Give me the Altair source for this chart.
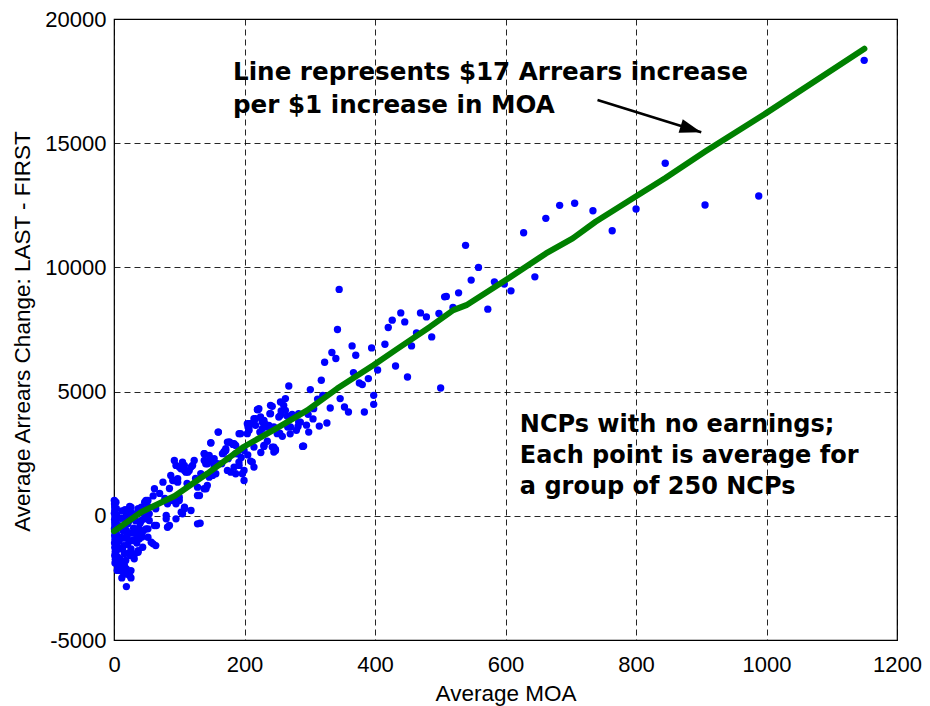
import altair as alt
import pandas as pd

# ---------------- data ----------------
x_ticks = [0, 200, 400, 600, 800, 1000, 1200]
y_ticks = [-5000, 0, 5000, 10000, 15000, 20000]

# column of groups at MOA ~ 0
col_moa = [0.5, 0.8, 1.0, 1.2, 0.6, 1.5, 0.9, 1.1, 1.3, 0.7, 1.6, 1.0, 1.4, 0.8, 1.2, 1.8, 1.1, 2.0, 1.5,
           3, 3.5, 4, 3, 4.5, 3.5, 5, 4, 3, 5]
col_arr = [620, 480, 350, 220, 100, -20, -150, -280, -400, -520, -650, -800, -950, -1100, -1280, -1450, -1600, -1750, -1900,
           550, 300, 50, -250, -450, -700, -900, -1400, -1600, -2200]

# low-MOA cluster, negative changes
neg_moa = [6, 6, 11, 19, 21, 11, 16, 26, 14, 26, 19, 16, 31, 26, 37, 29, 39, 42, 52, 62, 57, 64,
           8, 10, 12, 14, 8, 15, 20, 22, 10, 18, 24, 30, 33, 35, 28, 40, 45, 12, 20, 34, 52, 44,
           60, 37, 32, 9, 6, 9, 19, 24, 65, 49, 42, 47, 54, 80, 82, 85, 128, 132,
           14, 17, 22, 27, 33, 38, 43, 16, 21, 25, 13]
neg_arr = [-1669, -1266, -863, -593, -323, -1871, -2004, -2206, -2274, -2500, -2851, -1532, -1734,
           -1331, -1399, -996, -927, -726, -524, -391, -1065, -1198,
           -400, -100, 200, -600, -1000, -1200, -800, -1500, -2100, -1800, -1000, -500, -200, -1100,
           100, -300, -600, -2500, -2350, -726, -863, -1266, -1129, -1468, -1532, -1734, -2073,
           -2206, -2137, -2407, -391, -524, -190, -121, -190, -121, -460, -391, -323, -298,
           -100, 250, -250, -700, -950, -500, -850, -900, -1150, -1600, -1350]

# low-MOA cluster, small positive changes
pos_moa = [24, 19, 37, 52, 49, 64, 82, 98, 108, 131, 95, 105, 80, 52, 47, 42, 37, 26, 24, 47, 54,
           90, 95, 100, 118, 108, 103, 128, 100, 49, 62, 75, 128, 138, 143, 141,
           60, 70, 78, 85]
pos_arr = [375, 12, 282, 375, 145, 282, 484, 617, 347, 819, -121, 80, 12, 617, 548, 347, 214, 347,
           145, 12, 80, 617, 484, 617, 214, 282, 145, 819, 750, 617, 1089, 1355, 1153, 1089, 1222, 1089,
           800, 900, 700, 1100]

# MOA 85 - 215
mid1_moa = [92.5, 105, 108, 113, 118, 87, 92.5, 97.6, 90, 95, 97.6, 95, 100, 122.9, 120.4, 107.8,
            102.6, 110.2, 115.3, 138.3, 140.6, 145.9, 153.5, 158.6, 145.9, 151, 156, 153.5, 151,
            138.3, 145.9, 143.3, 148.4, 160, 168.8, 171.3, 173.8, 181.5, 186.5, 176.4, 184, 171.3,
            166.2, 173.8, 178.9, 186.5, 184, 191.7, 199.3, 199.3, 196.7, 212, 214.5, 189, 199.3,
            112, 125, 133, 165, 175, 195, 205]
mid1_arr = [2230, 2161, 1827, 1758, 1960, 1625, 1423, 1355, 1423, 1423, 1492, 2028, 1960, 2230,
            2028, 2028, 1895, 1758, 1827, 2230, 2097, 2230, 2298, 2097, 1556, 1625, 1694, 1960,
            2161, 2500, 2431, 2097, 2928, 3371, 2565, 2702, 2968, 2903, 2835, 2968, 2903, 2633,
            2500, 1827, 1758, 1694, 1960, 2028, 1827, 1423, 1694, 2161, 1960, 2500, 2633,
            1300, 1500, 1700, 2100, 2300, 2350, 2450]

# MOA 150 - 300
mid2_moa = [191.7, 204.3, 194, 219.6, 214.5, 224.6, 229.8, 209.4, 206.9, 239.9, 262.7, 222, 239.9,
            255.1, 285.6, 283, 242.5, 237.4, 245, 227.2, 217, 204.3, 207, 214.5, 229.8, 242.5,
            247.5, 289, 245, 245, 247.5, 229.8, 229.8, 234.8, 220.6, 217, 227.2, 232.2, 206.9,
            205.4, 250.1, 254, 266.2, 279.5, 283, 273, 260.1, 262.7, 255.1, 238.9, 252.6, 256.2,
            265.3, 270.4, 223.5, 290.6, 159.6, 148.4, 177.3, 182.5, 168.8, 138.3, 191.5, 209.4, 186.5,
            225, 235, 258, 270, 282, 295, 305]
mid2_arr = [3306, 3306, 3306, 4274, 3911, 3976, 3843, 3710, 3573, 4448, 4246, 4314, 4113, 4044,
            3774, 4113, 4407, 3641, 3573, 3508, 3641, 3710, 3440, 2766, 2835, 2766, 2633, 2794,
            2766, 2565, 2673, 2794, 3734, 3573, 4274, 3911, 3774, 3681, 3710, 3573, 3306, 3331,
            3573, 3440, 3774, 4085, 4448, 4718, 4581, 4113, 3976, 4218, 4016, 3573, 3371, 2806,
            3371, 2944, 2968, 2875, 2593, 2500, 2161, 2202, 2500,
            2550, 3000, 3200, 3300, 3600, 3650, 3900]

# MOA 265 - 405
mid3_moa = [345.1, 342.5, 364.9, 370.5, 333.9, 340, 322.8, 317.7, 267.9, 300.9, 367, 394.8, 404,
            389.8, 376, 380.5, 398, 398, 383.7, 359.3, 353.2, 346.6, 331.4, 326.3, 314.6, 306,
            297.4, 298.4, 289.7, 312, 320]
mid3_arr = [9113, 7500, 6839, 6464, 6573, 6331, 6181, 5456, 5226, 5081, 5766, 6758, 5871, 5524,
            5347, 5282, 4851, 4488, 4177, 4177, 4379, 4718, 4339, 3734, 3613, 4314, 4085, 3371, 2806,
            4700, 4850]

# MOA 410 - 530
hi1_moa = [415.2, 420.3, 426.4, 439.5, 445.6, 463.6, 469.7, 478.8, 498, 506.7, 486.9, 449.8,
           431.5, 500.6, 456, 519.5, 509.3, 528.1]
hi1_arr = [6907, 7581, 7875, 8169, 7806, 7363, 8169, 8008, 8145, 8815, 7202, 5589, 6032, 5145,
           6839, 8387, 8831, 8976]

# MOA > 530
hi2_moa = [538.8, 547.4, 558.6, 572.9, 583, 598.2, 608.4, 645, 627.8, 661.8, 683, 706, 734,
           763.5, 800.1, 844.8, 905.8, 988.1, 1149.7]
hi2_arr = [10887, 9488, 10000, 8319, 9419, 9327, 9056, 9621, 11395, 11976, 12500, 12581, 12282,
           11476, 12351, 14194, 12512, 12875, 18335]

# fitted line
line_moa = [0, 42, 93, 143, 199, 245, 296, 342, 398, 433, 484, 520, 540, 601, 662, 703, 738,
            799, 845, 906, 1000, 1150]
line_arr = [-620, 150, 800, 1700, 2780, 3460, 4246, 5121, 6070, 6700, 7605, 8278, 8480, 9500,
            10563, 11169, 11838, 12847, 13600, 14661, 16220, 18802]

# annotations
note1_lines = ["Line represents $17 Arrears increase", "per $1 increase in MOA"]
note1_pos = (182.4, 17532)
note2_lines = ["NCPs with no earnings;", "Each point is average for", "a group of 250 NCPs"]
note2_pos = (622, 3386)
arrow_from = (741, 16739)
arrow_to = (900, 15439)

# ---------------- build ----------------
pts_moa = col_moa + neg_moa + pos_moa + mid1_moa + mid2_moa + mid3_moa + hi1_moa + hi2_moa
pts_arr = col_arr + neg_arr + pos_arr + mid1_arr + mid2_arr + mid3_arr + hi1_arr + hi2_arr
pts = pd.DataFrame({"moa": pts_moa, "arr": pts_arr})
line_df = pd.DataFrame({"moa": line_moa, "arr": line_arr})

xscale = alt.Scale(domain=[0, 1200], nice=False, zero=False)
yscale = alt.Scale(domain=[-5000, 20000], nice=False, zero=False)

grid_common = dict(
    grid=True, gridDash=[6, 4], gridColor="#000000", gridWidth=1, gridOpacity=0.85,
    ticks=False, tickSize=0, domain=False,
    labelFont="Liberation Sans", labelFontSize=22, labelColor="black",
    labelFlush=False, labelOverlap=False, labelExpr="'' + datum.value",
    titleFont="Liberation Sans", titleFontSize=22.5, titleFontWeight="normal",
    titleColor="black",
)

xaxis = alt.Axis(values=x_ticks, title="Average MOA", labelBaseline="alphabetic",
                 labelPadding=31, titleBaseline="alphabetic", titleY=60, titleX=391.5,
                 **grid_common)
yaxis = alt.Axis(values=y_ticks, title="Average Arrears Change: LAST - FIRST",
                 labelPadding=8, titleBaseline="alphabetic", titleX=-85, titleY=312,
                 titleAngle=270, titleAlign="center", **grid_common)

points = alt.Chart(pts).mark_circle(size=54, color="#0000FF", opacity=1).encode(
    x=alt.X("moa:Q", scale=xscale, axis=xaxis),
    y=alt.Y("arr:Q", scale=yscale, axis=yaxis),
)

fit = alt.Chart(line_df).mark_line(color="#008000", strokeWidth=6, strokeCap="round",
                                   strokeJoin="round").encode(
    x=alt.X("moa:Q", scale=xscale),
    y=alt.Y("arr:Q", scale=yscale),
)

notes = pd.DataFrame({
    "moa": [note1_pos[0], note2_pos[0]],
    "arr": [note1_pos[1], note2_pos[1]],
    "label": [note1_lines, note2_lines],
})
note1 = alt.Chart(notes.iloc[[0]]).mark_text(
    font="DejaVu Sans", fontSize=24.6, fontWeight="bold", color="black",
    align="left", baseline="alphabetic", lineHeight=33,
).encode(x=alt.X("moa:Q", scale=xscale), y=alt.Y("arr:Q", scale=yscale), text="label")
note2 = alt.Chart(notes.iloc[[1]]).mark_text(
    font="DejaVu Sans", fontSize=24, fontWeight="bold", color="black",
    align="left", baseline="alphabetic", lineHeight=31,
).encode(x=alt.X("moa:Q", scale=xscale), y=alt.Y("arr:Q", scale=yscale), text="label")

arrow_df = pd.DataFrame({"x1": [arrow_from[0]], "y1": [arrow_from[1]],
                         "x2": [arrow_to[0]], "y2": [arrow_to[1]]})
shaft = alt.Chart(arrow_df).mark_rule(color="black", strokeWidth=2.5).encode(
    x=alt.X("x1:Q", scale=xscale), y=alt.Y("y1:Q", scale=yscale),
    x2="x2:Q", y2="y2:Q",
)
head = alt.Chart(arrow_df).mark_point(
    shape="M0,0L-1,-0.33L-1,0.33Z", size=1850, filled=True, color="black",
    opacity=1, angle=17,
).encode(x=alt.X("x2:Q", scale=xscale), y=alt.Y("y2:Q", scale=yscale))

chart = alt.layer(points, fit, note1, note2, shaft, head).properties(
    width=783, height=621,
    padding={"left": 106, "top": 11, "right": 25, "bottom": 67},
    autosize=alt.AutoSizeParams(type="none"),
    background="white",
).configure_view(stroke="black", strokeWidth=1.2)

chart.save("out.html", embed_options={"renderer": "svg", "actions": False})
